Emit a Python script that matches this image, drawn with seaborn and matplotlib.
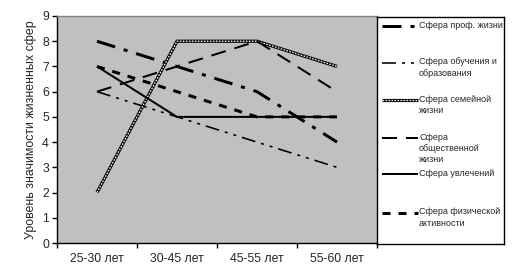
import numpy as np
import pandas as pd
import matplotlib
matplotlib.use("Agg")
import matplotlib.pyplot as plt
import seaborn as sns

# ---- data ----
categories = ["25-30 лет", "30-45 лет", "45-55 лет", "55-60 лет"]
prof = [8, 7, 6, 4]
obuch = [6, 5, 4, 3]
semya = [2, 8, 8, 7]
obsch = [6, 7, 8, 6]
uvlech = [7, 5, 5, 5]
fiz = [7, 6, 5, 5]
labels = ["Сфера проф. жизни", "Сфера обучения и\nобразования",
          "Сфера семейной\nжизни", "Сфера\nобщественной\nжизни",
          "Сфера увлечений", "Сфера физической\nактивности"]
y_label = "Уровень значимости жизненных сфер"
y_ticks = list(range(0, 10))

series = [prof, obuch, semya, obsch, uvlech, fiz]

sns.set_theme(style="white")
plt.rcParams['font.family'] = ['Liberation Sans', 'DejaVu Sans']

DPI = 100
fig = plt.figure(figsize=(5.16, 2.80), dpi=DPI)
W, H = 516, 280
px = 72.0 / DPI  # points per pixel

L, R, T, B = 57, 377, 16, 243
ax = fig.add_axes([L / W, 1 - B / H, (R - L) / W, (B - T) / H])
ax.set_facecolor("#C0C0C0")


def ls_px(lw_px, pattern_px):
    return (0, tuple(p / lw_px for p in pattern_px))


styles = [
    dict(lw=3.0, pat=(19, 9, 4, 9)),            # prof
    dict(lw=1.6, pat=(14, 6, 3, 6, 3, 6)),      # obuch
    dict(lw=3.2, pat=None, fam=True),           # semya
    dict(lw=2.0, pat=(15, 9)),                  # obsch
    dict(lw=2.0, pat=None),                     # uvlech
    dict(lw=3.0, pat=(8, 8)),                   # fiz
]


def draw_series(target, xs, ys, st, use_sns=True):
    lw_pt = st["lw"] * px
    if st.get("fam"):
        kw1 = dict(color="black", lw=lw_pt, solid_capstyle="butt")
        kw2 = dict(color="white", lw=1.3 * px,
                   linestyle=(0, (1.6 / 1.3, 1.4 / 1.3)), dash_capstyle="butt")
        if use_sns:
            sns.lineplot(x=xs, y=ys, ax=target, sort=False, **kw1)
            sns.lineplot(x=xs, y=ys, ax=target, sort=False, **kw2)
        else:
            target.plot(xs, ys, **kw1)
            target.plot(xs, ys, **kw2)
        return
    if st["pat"] is None:
        kw = dict(color="black", lw=lw_pt, solid_capstyle="butt")
    else:
        kw = dict(color="black", lw=lw_pt,
                  linestyle=ls_px(st["lw"], st["pat"]), dash_capstyle="butt")
    if use_sns:
        sns.lineplot(x=xs, y=ys, ax=target, sort=False, **kw)
    else:
        target.plot(xs, ys, **kw)


xpos = np.arange(len(categories))
for vals, st in zip(series, styles):
    df = pd.DataFrame({"x": xpos, "y": vals})
    draw_series(ax, df["x"], df["y"], st)

TF = 8.8
ax.set_xlim(-0.5, len(categories) - 0.5)
ax.set_ylim(0, 9)
ax.set_yticks(y_ticks)
ax.set_yticklabels([str(v) for v in y_ticks], fontsize=TF)
ax.set_xticks(np.arange(-0.5, len(categories), 1.0))
ax.set_xticklabels([])
ax.set_xticks(xpos, minor=True)
ax.set_xticklabels(categories, minor=True, fontsize=TF)
ax.tick_params(axis="x", which="major", direction="out", length=5 * px,
               width=1, color="black", bottom=True)
ax.tick_params(axis="x", which="minor", length=0, pad=10 * px)
ax.tick_params(axis="y", direction="out", length=5 * px, width=1,
               color="black", left=True, pad=3 * px)
ax.set_xlabel("")
ax.set_ylabel(y_label, fontsize=8.9, labelpad=4)
for s in ["left", "bottom"]:
    ax.spines[s].set_color("black")
    ax.spines[s].set_linewidth(1)
ax.spines["top"].set_color("#808080")
ax.spines["top"].set_linewidth(1)
ax.spines["right"].set_visible(False)
ax.grid(False)

# ---- legend box ----
LL, LR, LT, LB = 377, 504, 17, 244
lax = fig.add_axes([LL / W, 1 - LB / H, (LR - LL) / W, (LB - LT) / H])
lax.set_xlim(0, LR - LL)
lax.set_ylim(LB - LT, 0)
lax.set_facecolor("white")
for s in lax.spines.values():
    s.set_color("black")
    s.set_linewidth(1)
lax.set_xticks([])
lax.set_yticks([])
entry_y = [9, 46, 83, 121, 157, 196]
for lab, st, yy in zip(labels, styles, entry_y):
    draw_series(lax, [5, 41], [yy, yy], st, use_sns=False)
    lax.text(42, yy - 5.5, lab, fontsize=6.5, va="top", ha="left",
             linespacing=1.35)

fig.savefig("out.png", dpi=DPI)
